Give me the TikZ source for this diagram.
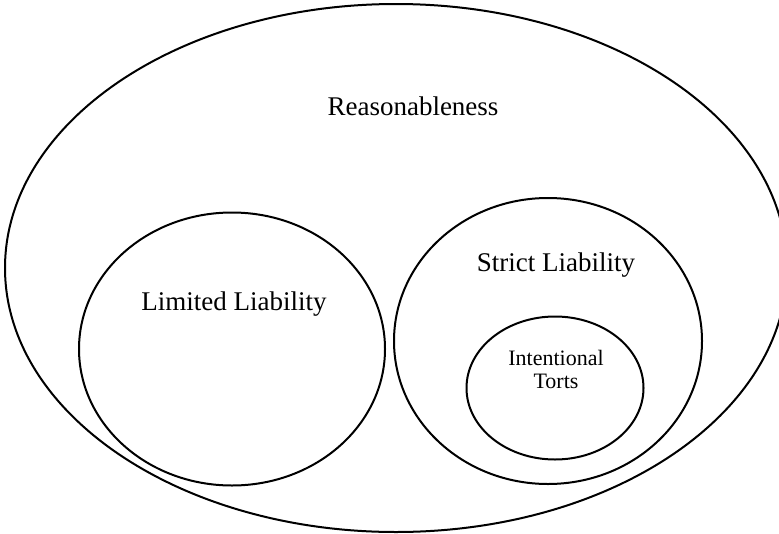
\documentclass[tikz,border=0pt]{standalone}
\usepackage{fontspec}
\setmainfont{Liberation Serif}
\usetikzlibrary{shapes.geometric}

\begin{document}
\begin{tikzpicture}[x=1pt,y=-1pt,
  set/.style={ellipse,draw,line width=2pt,inner sep=0pt},
  big/.style={anchor=base,font=\fontsize{27}{32}\selectfont},
  small/.style={anchor=base,align=center,font=\fontsize{22}{23}\selectfont}]
\clip (0,0) rectangle (779,533);
\node [set,minimum width=782pt,minimum height=528pt] (reason) at (396,268) {};
\node [set,minimum width=306pt,minimum height=273pt] (limited) at (232,349) {};
\node [set,minimum width=308pt,minimum height=286pt] (strict) at (548,341) {};
\node [set,minimum width=177pt,minimum height=143pt] (torts) at (555,388) {};
\node [big] (reasonlabel) at (413,115) {Reasonableness};
\node [big] (limitedlabel) at (234,310) {Limited Liability};
\node [big] (strictlabel) at (556,271) {Strict Liability};
\node [small] (tortslabel) at (556,388) {Intentional\\Torts};
\end{tikzpicture}
\end{document}
